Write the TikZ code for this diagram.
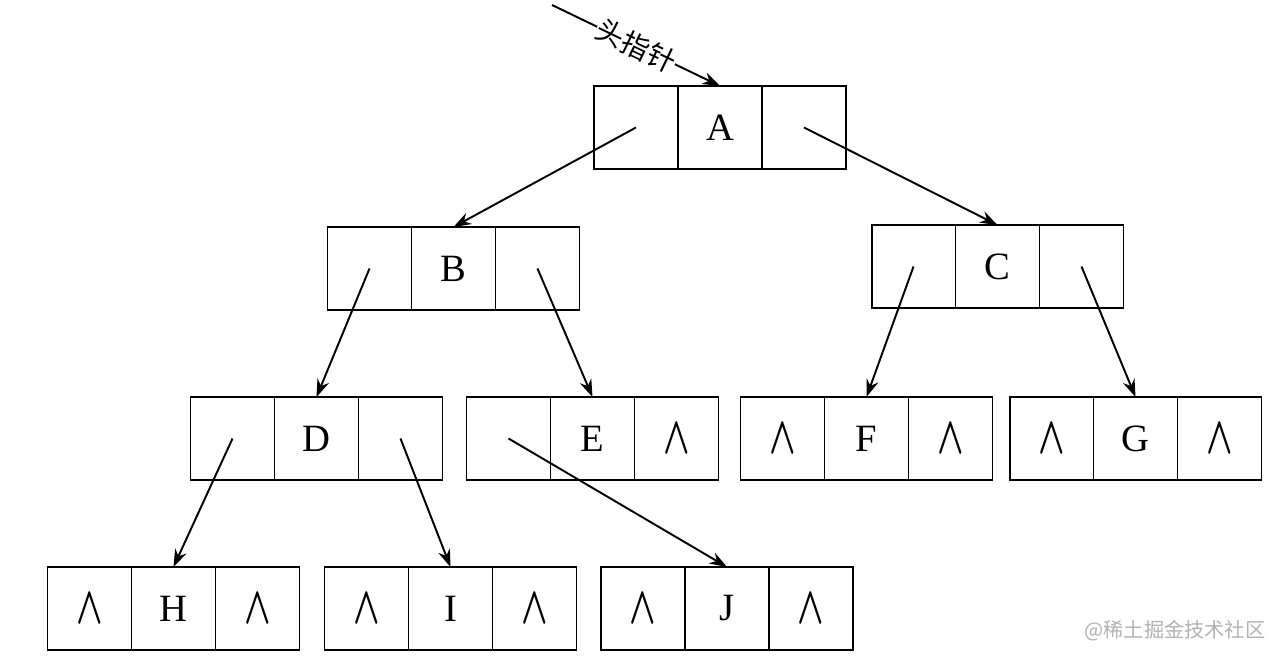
\documentclass[tikz,border=0pt]{standalone}
\usepackage{fontspec}
\setmainfont{Liberation Serif}
\newfontfamily\cjkfont{Noto Sans CJK SC}
\usetikzlibrary{arrows.meta,positioning}
\tikzset{>={Stealth[length=10pt,width=7pt]}}

% empty pointer
\newcommand{\nil}{\scalebox{0.95}[1.45]{\boldmath$\wedge$}}

% one tree node: name, position, data, left cell, right cell
\newcommand{\bitnode}[5]{%
  \node[cell] (#1) at #2 {#3};
  \node[cell, left=0pt of #1] (#1-l) {#4};
  \node[cell, right=0pt of #1] (#1-r) {#5};
}

\begin{document}
\begin{tikzpicture}[x=0.02cm, y=-0.02cm,
                    cell/.style={draw, line width=1.1pt, minimum width=1.68cm,
                                 minimum height=1.66cm, inner sep=0pt, outer sep=0pt,
                                 font=\fontsize{22}{26}\selectfont},
                    link/.style={->, line width=1.1pt},
                   ]

\useasboundingbox (0,0) rectangle (1275,661);

\bitnode{A}{(720,127.5)}{A}{}{}
\bitnode{B}{(453.5,268.5)}{B}{}{}
\bitnode{C}{(997.5,266.5)}{C}{}{}
\bitnode{D}{(316.5,438.5)}{D}{}{}
\bitnode{E}{(592.5,438.5)}{E}{}{\nil}
\bitnode{F}{(866.5,438.5)}{F}{\nil}{\nil}
\bitnode{G}{(1135.5,438.5)}{G}{\nil}{\nil}
\bitnode{H}{(173.5,608.5)}{H}{\nil}{\nil}
\bitnode{I}{(450.5,608.5)}{I}{\nil}{\nil}
\bitnode{J}{(727,608.5)}{J}{\nil}{\nil}

% head pointer
\coordinate (head) at (552,5);
\draw[link] (head) -- node[sloped, fill=white, inner sep=0.5pt,
    font=\cjkfont\fontsize{16}{18}\selectfont] (headlabel) {头指针} (A.north);

% child pointers
\draw[link] (A-l.center) -- (B.north);
\draw[link] (A-r.center) -- (C.north);
\draw[link] (B-l.center) -- (D.north);
\draw[link] (B-r.center) -- (E.north);
\draw[link] (C-l.center) -- (F.north);
\draw[link] (C-r.center) -- (G.north);
\draw[link] (D-l.center) -- (H.north);
\draw[link] (D-r.center) -- (I.north);
\draw[link] (E-l.center) -- (J.north);

\node[font=\cjkfont\fontsize{11.5}{13}\selectfont, text=gray!60] (mark) at (1175,631) {@稀土掘金技术社区};

\end{tikzpicture}
\end{document}
